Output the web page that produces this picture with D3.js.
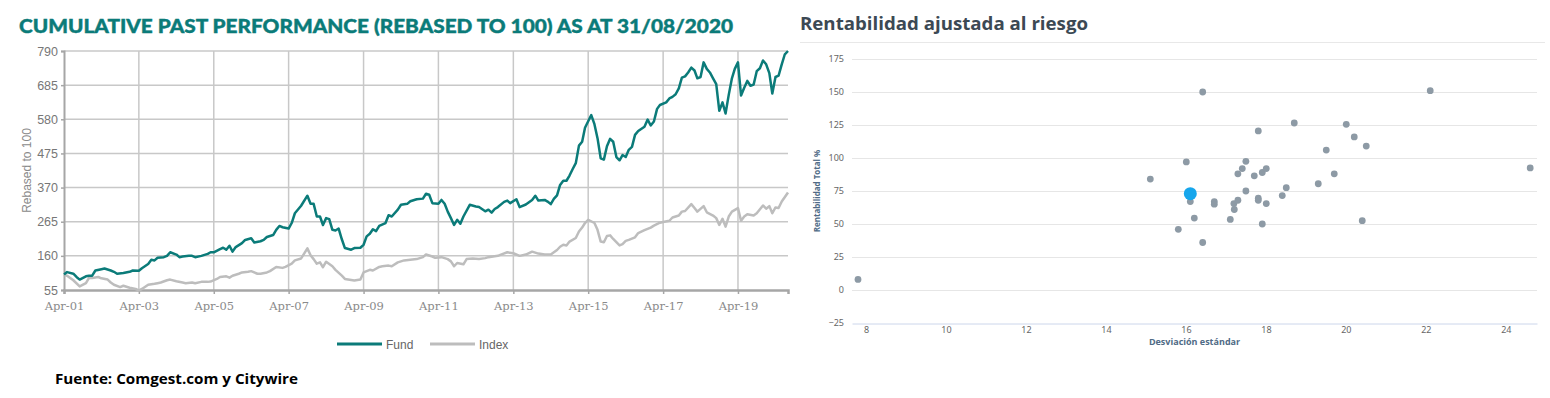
<!DOCTYPE html>
<html>
<head>
<meta charset="utf-8">
<script src="https://cdn.jsdelivr.net/npm/d3@7"></script>
<style>
  body { margin: 0; background: #fff; }
  svg { display: block; }
</style>
</head>
<body>
<div id="chart"></div>
<script>
const W = 1550, H = 398;

// ---- left chart data (rebased to 100) ----
const fundDates = ["2001-04","2001-05","2001-07","2001-08","2001-09","2001-11","2001-12","2002-01","2002-02","2002-04","2002-05","2002-07","2002-08","2002-09","2002-11","2003-01","2003-02","2003-04","2003-05","2003-07","2003-08","2003-09","2003-10","2003-12","2004-01","2004-02","2004-04","2004-05","2004-06","2004-08","2004-09","2004-10","2004-12","2005-02","2005-03","2005-04","2005-06","2005-07","2005-08","2005-09","2005-10","2005-11","2006-01","2006-02","2006-04","2006-05","2006-07","2006-08","2006-09","2006-11","2006-12","2007-01","2007-02","2007-04","2007-05","2007-06","2007-08","2007-10","2007-11","2007-12","2008-01","2008-02","2008-03","2008-04","2008-05","2008-06","2008-07","2008-08","2008-09","2008-10","2008-12","2009-01","2009-03","2009-04","2009-05","2009-06","2009-07","2009-08","2009-09","2009-11","2009-12","2010-01","2010-03","2010-04","2010-06","2010-07","2010-09","2010-11","2010-12","2011-01","2011-02","2011-04","2011-05","2011-06","2011-07","2011-08","2011-09","2011-10","2011-11","2011-12","2012-02","2012-04","2012-05","2012-07","2012-08","2012-09","2012-10","2012-11","2013-01","2013-02","2013-03","2013-05","2013-06","2013-08","2013-10","2013-11","2013-12","2014-02","2014-03","2014-04","2014-05","2014-06","2014-07","2014-08","2014-09","2014-10","2014-11","2014-12","2015-01","2015-02","2015-03","2015-05","2015-06","2015-07","2015-08","2015-09","2015-10","2015-11","2015-12","2016-01","2016-02","2016-03","2016-04","2016-05","2016-06","2016-07","2016-08","2016-10","2016-11","2016-12","2017-01","2017-02","2017-03","2017-05","2017-06","2017-07","2017-08","2017-09","2017-10","2017-11","2017-12","2018-01","2018-02","2018-03","2018-04","2018-05","2018-06","2018-07","2018-08","2018-09","2018-10","2018-11","2018-12","2019-01","2019-02","2019-03","2019-04","2019-05","2019-06","2019-07","2019-08","2019-09","2019-10","2019-11","2019-12","2020-01","2020-02","2020-03","2020-04","2020-05","2020-06","2020-07","2020-08"];
const fundValues = [103,110,105,95,87,97,99,99,115,119,121,115,111,105,107,111,115,114,122,135,148,146,154,156,160,171,164,156,158,160,160,156,160,166,171,171,181,185,179,191,173,187,199,209,214,201,205,209,218,224,240,252,248,244,261,291,314,345,320,320,281,281,255,276,273,240,238,244,211,184,179,184,185,194,220,228,242,236,252,261,285,281,302,317,320,328,334,336,351,348,322,320,332,320,296,276,255,271,259,281,317,312,310,297,302,293,304,310,326,330,322,334,310,318,332,345,330,332,327,319,335,346,378,391,391,407,427,445,499,511,554,593,565,522,460,456,497,520,511,464,454,470,464,486,495,532,544,557,579,561,573,612,624,632,644,649,657,675,708,712,724,739,730,706,710,755,735,724,706,688,606,632,598,655,706,735,755,653,677,698,683,687,728,737,761,749,722,659,710,714,749,780,790];

const indexDates = ["2001-04","2001-05","2001-07","2001-09","2001-11","2001-12","2002-01","2002-03","2002-04","2002-06","2002-07","2002-08","2002-10","2002-11","2003-01","2003-03","2003-04","2003-05","2003-07","2003-09","2003-10","2003-11","2004-01","2004-02","2004-04","2004-06","2004-07","2004-09","2004-10","2004-12","2005-02","2005-03","2005-05","2005-06","2005-08","2005-09","2005-10","2005-12","2006-01","2006-03","2006-04","2006-06","2006-07","2006-09","2006-10","2006-12","2007-02","2007-03","2007-05","2007-06","2007-08","2007-10","2007-11","2007-12","2008-01","2008-02","2008-03","2008-04","2008-06","2008-07","2008-09","2008-10","2009-01","2009-03","2009-04","2009-06","2009-07","2009-09","2009-10","2009-12","2010-01","2010-03","2010-05","2010-07","2010-09","2010-11","2010-12","2011-02","2011-03","2011-05","2011-07","2011-08","2011-09","2011-10","2011-12","2012-01","2012-03","2012-05","2012-07","2012-08","2012-11","2012-12","2013-02","2013-04","2013-06","2013-08","2013-10","2013-12","2014-02","2014-04","2014-06","2014-07","2014-08","2014-09","2014-10","2014-12","2015-01","2015-02","2015-03","2015-04","2015-06","2015-07","2015-08","2015-09","2015-10","2015-11","2015-12","2016-02","2016-03","2016-04","2016-05","2016-07","2016-08","2016-10","2016-12","2017-01","2017-03","2017-04","2017-06","2017-07","2017-09","2017-10","2017-11","2018-01","2018-02","2018-03","2018-05","2018-06","2018-08","2018-09","2018-10","2018-11","2018-12","2019-01","2019-02","2019-04","2019-05","2019-06","2019-07","2019-09","2019-10","2019-12","2020-01","2020-02","2020-03","2020-04","2020-05","2020-06","2020-08"];
const indexValues = [102,99,85,66,76,92,92,95,91,87,78,71,64,68,62,58,54,58,71,74,76,78,85,87,82,78,76,78,76,80,80,81,89,95,97,93,99,105,109,111,113,105,105,109,113,126,123,126,136,146,152,183,162,150,136,140,125,142,128,117,99,89,84,87,109,117,115,126,128,130,128,140,146,148,150,156,164,158,154,156,150,143,128,138,134,150,152,150,153,156,160,164,171,168,160,164,173,167,164,164,178,188,194,192,204,215,235,247,261,271,261,240,204,202,221,223,212,192,196,206,209,217,230,239,247,253,262,264,268,278,284,296,298,319,307,296,313,294,284,276,255,274,250,281,296,307,268,281,288,284,291,315,305,313,291,309,307,327,355];

const perfTicks = [55, 160, 265, 370, 475, 580, 685, 790];
const perfYears = [2001, 2003, 2005, 2007, 2009, 2011, 2013, 2015, 2017, 2019];
const seriesNames = ["Fund", "Index"];

// ---- right chart data (risk / return) ----
const peerStdDev = [16.42,22.11,18.71,17.81,20.01,20.21,20.51,19.51,16.01,17.5,17.41,17.3,17.71,17.91,18.01,15.11,24.61,19.71,19.31,18.51,18.41,17.5,16.11,16.71,16.71,17.2,17.3,17.21,17.81,17.81,18.01,16.21,17.11,17.91,20.41,15.81,16.42,7.8];
const peerReturn = [150,151,126.5,120.5,125.5,116,109,106,97,97.5,92,88,86.5,89,92,84,92.5,88,80.5,77.5,71.5,75,67,67,65,65.5,68,61,69.5,68,65.5,54.5,53.5,50,52.5,46,36,8];
const fundStdDev = [16.11];
const fundReturn = [73];
const riskXTicks = [8, 10, 12, 14, 16, 18, 20, 22, 24];
const riskYTicks = [-25, 0, 25, 50, 75, 100, 125, 150, 175];

const teal = "#0b7b79";

const svg = d3.select("#chart").append("svg")
  .attr("width", W).attr("height", H)
  .style("font-family", "'Liberation Sans', Arial, sans-serif");

// ================= left chart =================
const parseMonth = d3.timeParse("%Y-%m");
const left = {x0: 64, x1: 788, y0: 51, y1: 290};

const x = d3.scaleTime()
  .domain([parseMonth("2001-04"), parseMonth("2020-08")])
  .range([left.x0, left.x1]);
const y = d3.scaleLinear().domain([55, 790]).range([left.y1, left.y0]);

svg.append("text")
  .attr("x", 19).attr("y", 33)
  .attr("textLength", 714).attr("lengthAdjust", "spacingAndGlyphs")
  .style("font-family", "Lato, 'Open Sans', sans-serif")
  .style("font-weight", 900).style("font-size", "18.5px")
  .style("fill", teal).style("stroke", teal).style("stroke-width", 0.4)
  .text("CUMULATIVE PAST PERFORMANCE (REBASED TO 100) AS AT 31/08/2020");

const tickDates = perfYears.map(yr => new Date(yr, 3, 1));

// grid
svg.append("g").selectAll("line.h")
  .data(perfTicks.slice(1))
  .enter().append("line")
  .attr("x1", left.x0).attr("x2", left.x1)
  .attr("y1", d => y(d)).attr("y2", d => y(d))
  .style("stroke", "#c8c8c8").style("stroke-width", 1.5);

svg.append("g").selectAll("line.v")
  .data(tickDates.slice(1))
  .enter().append("line")
  .attr("x1", d => x(d)).attr("x2", d => x(d))
  .attr("y1", left.y0).attr("y2", left.y1)
  .style("stroke", "#c8c8c8").style("stroke-width", 1.5);

// axes
const xAxis = d3.axisBottom(x)
  .tickValues(tickDates)
  .tickSize(4)
  .tickFormat(d3.timeFormat("Apr-%y"));

const xAxisGroup = svg.append("g")
  .attr("transform", "translate(0," + left.y1 + ")")
  .call(xAxis);
xAxisGroup.select(".domain").style("stroke", "#a6a6a6").style("stroke-width", 2.5);
xAxisGroup.selectAll(".tick line").style("stroke", "#a6a6a6").style("stroke-width", 1.5);
xAxisGroup.selectAll("text")
  .attr("y", 12)
  .style("font-family", "'DejaVu Serif', serif")
  .style("font-size", "11.5px").style("fill", "#8a8a8a");

const yAxis = d3.axisLeft(y).tickValues(perfTicks).tickSize(3);
const yAxisGroup = svg.append("g")
  .attr("transform", "translate(" + left.x0 + ",0)")
  .call(yAxis);
yAxisGroup.select(".domain").style("stroke", "#a6a6a6").style("stroke-width", 2);
yAxisGroup.selectAll(".tick line").style("stroke", "#a6a6a6").style("stroke-width", 1.5);
yAxisGroup.selectAll("text")
  .attr("x", -6)
  .style("font-size", "12.5px").style("fill", "#777");

svg.append("text")
  .attr("transform", "translate(31," + ((left.y0 + left.y1) / 2) + ") rotate(-90)")
  .attr("text-anchor", "middle")
  .style("font-size", "12px").style("fill", "#8a8a8a")
  .text("Rebased to 100");

// lines
const line = d3.line()
  .x(d => x(d.date))
  .y(d => y(d.value));

const indexData = indexDates.map((d, i) => ({date: parseMonth(d), value: indexValues[i]}));
const fundData = fundDates.map((d, i) => ({date: parseMonth(d), value: fundValues[i]}));

svg.append("path").datum(indexData)
  .attr("d", line)
  .style("fill", "none").style("stroke", "#bdbdbd").style("stroke-width", 2.5)
  .style("stroke-linejoin", "round");

svg.append("path").datum(fundData)
  .attr("d", line)
  .style("fill", "none").style("stroke", teal).style("stroke-width", 2.5)
  .style("stroke-linejoin", "round");

// legend
const legendItems = [
  {name: seriesNames[0], color: teal, x: 337},
  {name: seriesNames[1], color: "#bdbdbd", x: 430}
];
const legend = svg.append("g").selectAll("g")
  .data(legendItems).enter().append("g")
  .attr("transform", d => "translate(" + d.x + ",344)");
legend.append("line")
  .attr("x1", 0).attr("x2", 45)
  .style("stroke", d => d.color).style("stroke-width", 3);
legend.append("text")
  .attr("x", 49).attr("y", 4.5)
  .style("font-size", "12px").style("fill", "#666")
  .text(d => d.name);

svg.append("text")
  .attr("x", 55).attr("y", 384)
  .attr("textLength", 243).attr("lengthAdjust", "spacingAndGlyphs")
  .style("font-family", "'Open Sans', sans-serif")
  .style("font-weight", 700).style("font-size", "14px").style("fill", "#000")
  .text("Fuente: Comgest.com y Citywire");

// ================= right chart =================
const right = {x0: 852, x1: 1537, y0: 59, y1: 323};
const slate = "#3c4954";
const axisTitle = "#506b86";

svg.append("text")
  .attr("x", 800).attr("y", 30)
  .attr("textLength", 288).attr("lengthAdjust", "spacingAndGlyphs")
  .style("font-family", "'Open Sans', sans-serif")
  .style("font-weight", 700).style("font-size", "18px").style("fill", slate)
  .text("Rentabilidad ajustada al riesgo");

svg.append("line")
  .attr("x1", 800).attr("x2", 1545)
  .attr("y1", 42.5).attr("y2", 42.5)
  .style("stroke", "#e8e8e8").style("stroke-width", 1);

const rx = d3.scaleLinear().domain([7.65, 24.78]).range([right.x0, right.x1]);
const ry = d3.scaleLinear().domain([-25, 175]).range([right.y1, right.y0]);

svg.append("g").selectAll("line")
  .data(riskYTicks.slice(1))
  .enter().append("line")
  .attr("x1", right.x0).attr("x2", right.x1)
  .attr("y1", d => Math.round(ry(d)) + 0.5).attr("y2", d => Math.round(ry(d)) + 0.5)
  .style("stroke", "#e6e6e6").style("stroke-width", 1);

const rxAxis = d3.axisBottom(rx).tickValues(riskXTicks).tickSize(0);
const rxGroup = svg.append("g")
  .attr("transform", "translate(0," + (right.y1 + 0.5) + ")")
  .call(rxAxis);
rxGroup.select(".domain").style("stroke", "#ccd6eb");
rxGroup.selectAll("text")
  .attr("y", 3.5)
  .style("font-family", "'Noto Sans', sans-serif")
  .style("font-size", "9px").style("fill", "#666");

const ryAxis = d3.axisLeft(ry).tickValues(riskYTicks).tickSize(0);
const ryGroup = svg.append("g")
  .attr("transform", "translate(" + (right.x0 - 8) + ",0)")
  .call(ryAxis);
ryGroup.select(".domain").remove();
ryGroup.selectAll("text")
  .attr("x", 0)
  .style("font-family", "'Noto Sans', sans-serif")
  .style("font-size", "9px").style("fill", "#666");

svg.append("text")
  .attr("transform", "translate(820," + ((right.y0 + right.y1) / 2) + ") rotate(-90)")
  .attr("text-anchor", "middle")
  .style("font-family", "'Open Sans', sans-serif")
  .style("font-weight", 700).style("font-size", "8px").style("fill", axisTitle)
  .text("Rentabilidad Total %");

svg.append("text")
  .attr("x", (right.x0 + right.x1) / 2).attr("y", 345)
  .attr("text-anchor", "middle")
  .style("font-family", "'Open Sans', sans-serif")
  .style("font-weight", 700).style("font-size", "9px").style("fill", axisTitle)
  .text("Desviación estándar");

svg.append("g").selectAll("circle")
  .data(peerStdDev.map((d, i) => [d, peerReturn[i]]))
  .enter().append("circle")
  .attr("cx", d => rx(d[0])).attr("cy", d => ry(d[1]))
  .attr("r", 3.4)
  .style("fill", "#8d9aa5");

svg.append("g").selectAll("circle")
  .data(fundStdDev.map((d, i) => [d, fundReturn[i]]))
  .enter().append("circle")
  .attr("cx", d => rx(d[0])).attr("cy", d => ry(d[1]))
  .attr("r", 6.5)
  .style("fill", "#16a6ec");
</script>
</body>
</html>
